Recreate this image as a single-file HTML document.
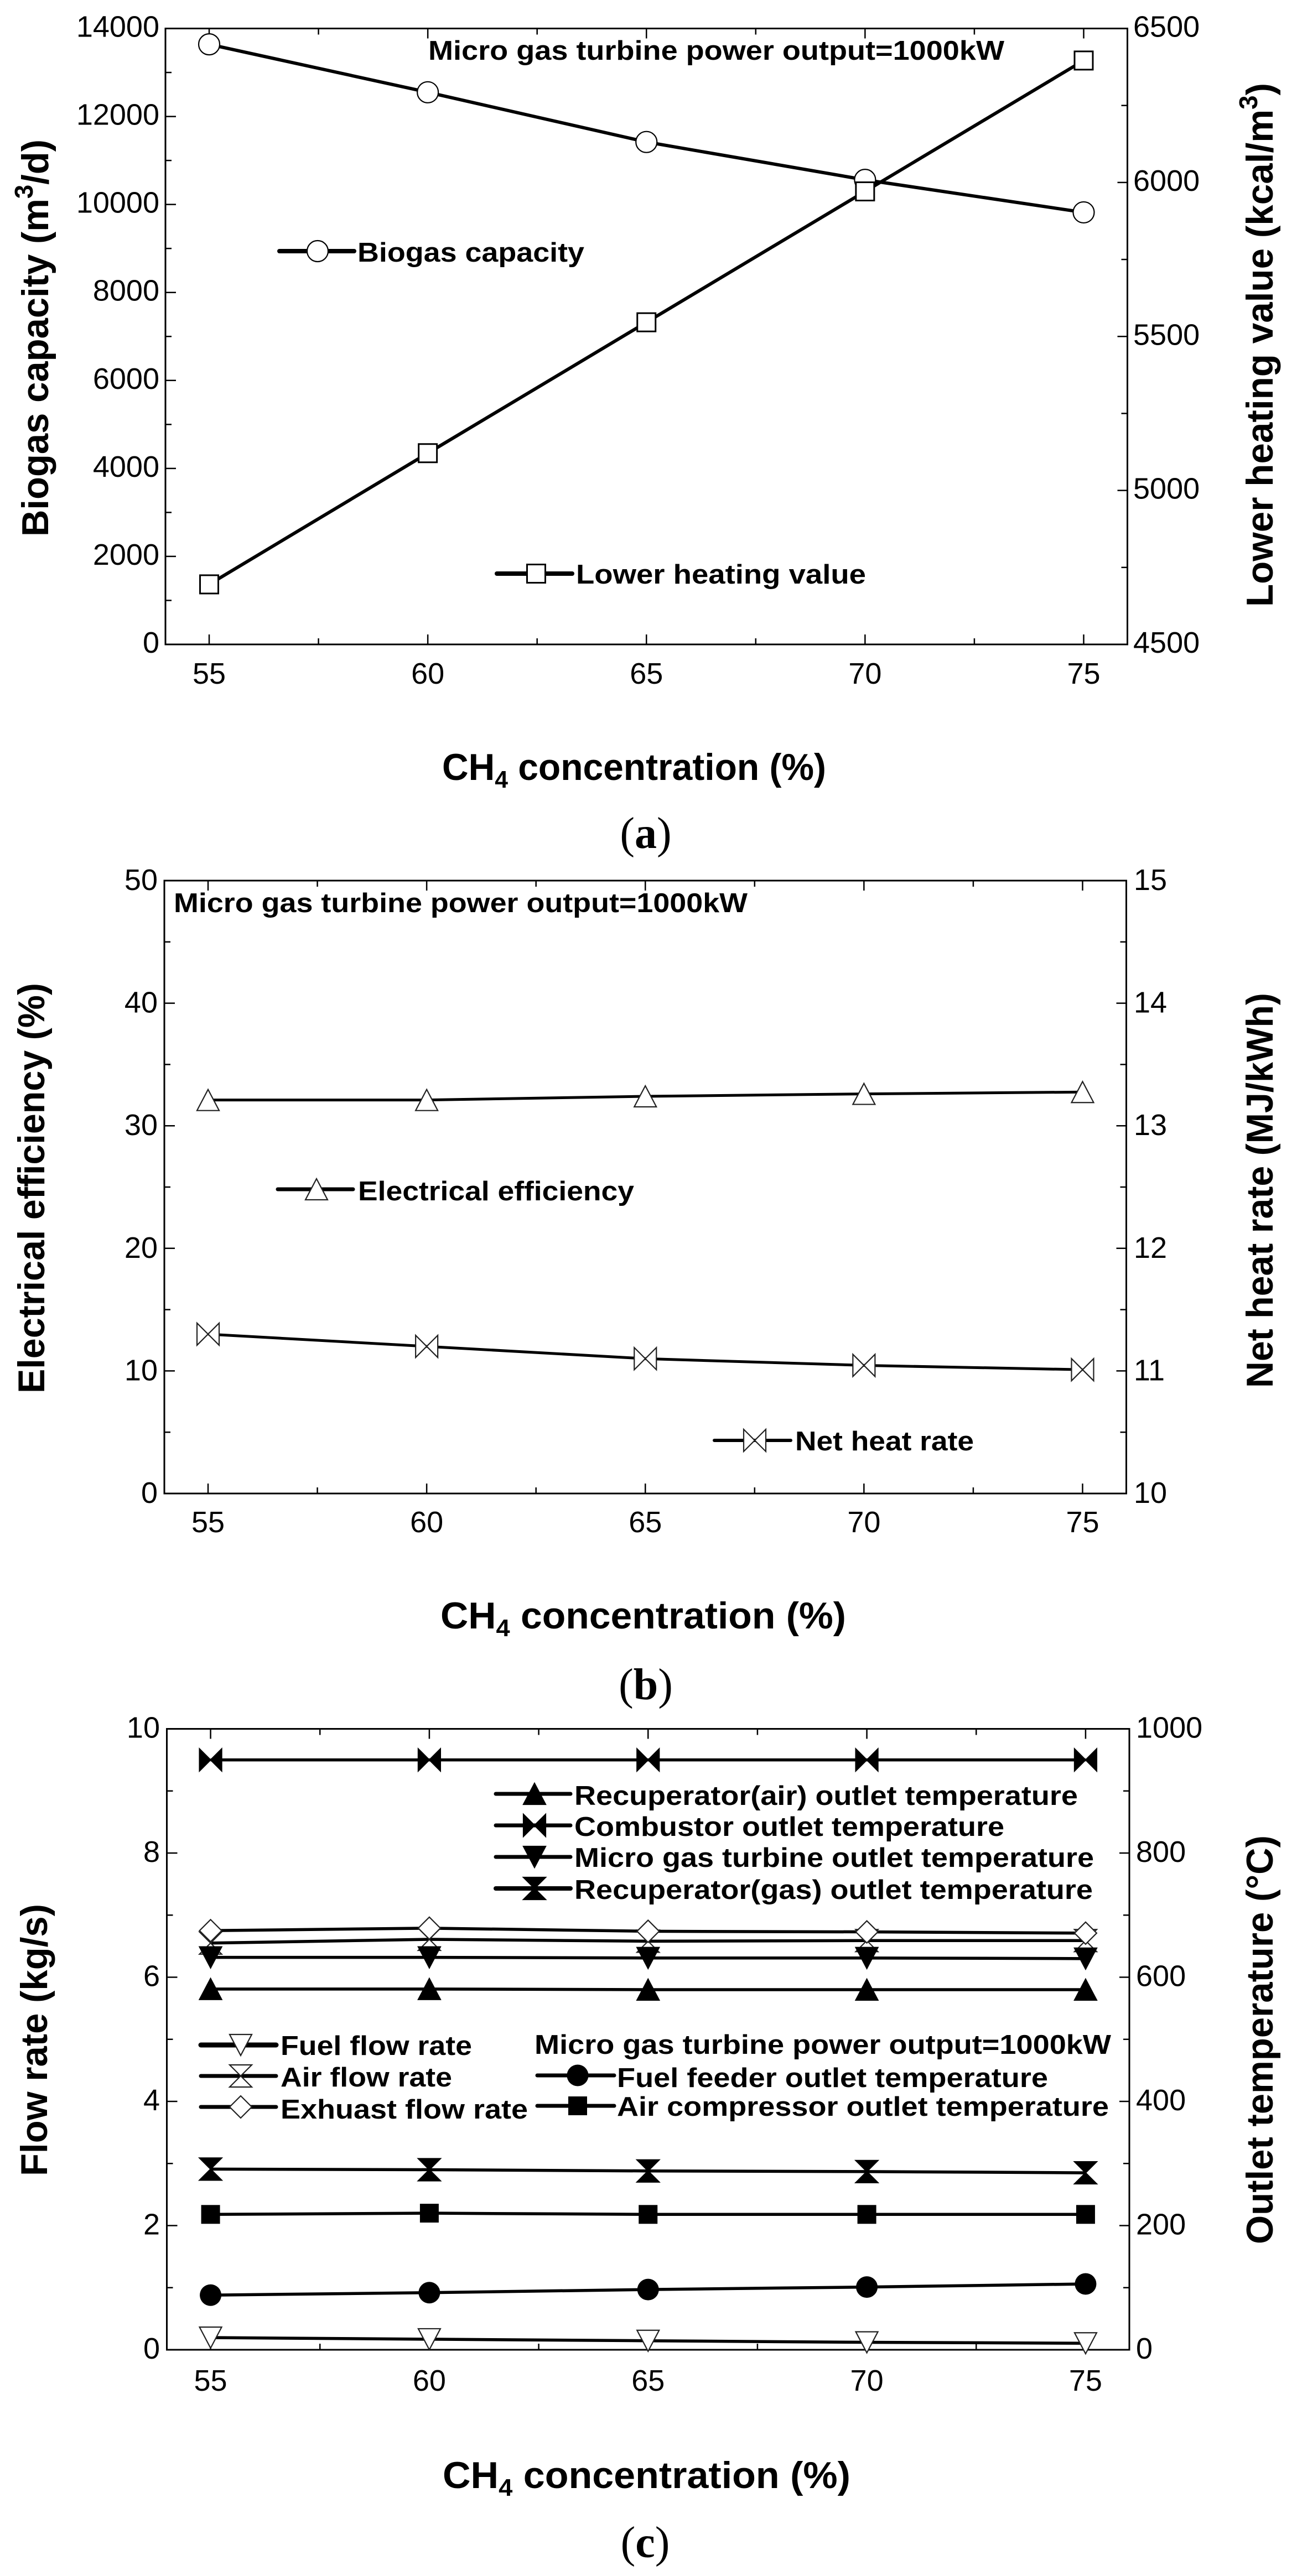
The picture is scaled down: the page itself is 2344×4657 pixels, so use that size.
<!DOCTYPE html>
<html lang="en">
<head>
<meta charset="utf-8">
<title>Micro gas turbine performance vs CH4 concentration</title>
<style>
html,body{margin:0;padding:0;background:#fff;}
svg{display:block;}
text{font-family:"Liberation Sans",Arial,sans-serif;fill:#000;}
.tt{font-weight:bold;font-size:68px;}
.lg{font-weight:bold;font-size:49px;}
.tk{font-size:54px;}
.pl{font-family:"Liberation Serif","Times New Roman",serif;font-size:80px;}
</style>
</head>
<body>
<svg id="figure" xmlns="http://www.w3.org/2000/svg" width="2344" height="4657" viewBox="0 0 2344 4657">
  <rect width="2344" height="4657" fill="#fff"/>

  <g id="panel-a"></g>
  <g id="panel-b"></g>
  <g id="panel-c"></g>

  <!-- Panel a text -->
  <text class="lg" x="774" y="108" textLength="1041" lengthAdjust="spacingAndGlyphs">Micro gas turbine power output=1000kW</text>
  <text class="lg" x="646" y="473" textLength="410" lengthAdjust="spacingAndGlyphs">Biogas capacity</text>
  <text class="lg" x="1041" y="1055" textLength="524" lengthAdjust="spacingAndGlyphs">Lower heating value</text>
  <text class="tt" transform="translate(87,970) rotate(-90)" textLength="718" lengthAdjust="spacingAndGlyphs">Biogas capacity (m<tspan font-size="46" dy="-28">3</tspan><tspan dy="28">/d)</tspan></text>
  <text class="tt" transform="translate(2300,1097) rotate(-90)" textLength="947" lengthAdjust="spacingAndGlyphs">Lower heating value (kcal/m<tspan font-size="46" dy="-28">3</tspan><tspan dy="28">)</tspan></text>
  <text class="tt" x="799" y="1410" textLength="694" lengthAdjust="spacingAndGlyphs">CH<tspan font-size="44" dy="14">4</tspan><tspan dy="-14"> concentration (%)</tspan></text>
  <text class="pl" x="1167" y="1533" text-anchor="middle">(<tspan font-weight="bold">a</tspan>)</text>

  <!-- Panel b text -->
  <text class="lg" x="314" y="1649" textLength="1037" lengthAdjust="spacingAndGlyphs">Micro gas turbine power output=1000kW</text>
  <text class="lg" x="647" y="2170" textLength="499" lengthAdjust="spacingAndGlyphs">Electrical efficiency</text>
  <text class="lg" x="1437" y="2622" textLength="323" lengthAdjust="spacingAndGlyphs">Net heat rate</text>
  <text class="tt" transform="translate(80,2519) rotate(-90)" textLength="742" lengthAdjust="spacingAndGlyphs">Electrical efficiency (%)</text>
  <text class="tt" transform="translate(2300,2509) rotate(-90)" textLength="714" lengthAdjust="spacingAndGlyphs">Net heat rate (MJ/kWh)</text>
  <text class="tt" x="796" y="2944" textLength="733" lengthAdjust="spacingAndGlyphs">CH<tspan font-size="44" dy="14">4</tspan><tspan dy="-14"> concentration (%)</tspan></text>
  <text class="pl" x="1167" y="3072" text-anchor="middle">(<tspan font-weight="bold">b</tspan>)</text>

  <!-- Panel c text -->
  <text class="lg" x="1038" y="3263" textLength="910" lengthAdjust="spacingAndGlyphs">Recuperator(air) outlet temperature</text>
  <text class="lg" x="1038" y="3319" textLength="777" lengthAdjust="spacingAndGlyphs">Combustor outlet temperature</text>
  <text class="lg" x="1038" y="3375" textLength="939" lengthAdjust="spacingAndGlyphs">Micro gas turbine outlet temperature</text>
  <text class="lg" x="1038" y="3433" textLength="937" lengthAdjust="spacingAndGlyphs">Recuperator(gas) outlet temperature</text>
  <text class="lg" x="507" y="3715" textLength="346" lengthAdjust="spacingAndGlyphs">Fuel flow rate</text>
  <text class="lg" x="507" y="3772" textLength="310" lengthAdjust="spacingAndGlyphs">Air flow rate</text>
  <text class="lg" x="507" y="3830" textLength="447" lengthAdjust="spacingAndGlyphs">Exhuast flow rate</text>
  <text class="lg" x="966" y="3713" textLength="1042" lengthAdjust="spacingAndGlyphs">Micro gas turbine power output=1000kW</text>
  <text class="lg" x="1115" y="3773" textLength="779" lengthAdjust="spacingAndGlyphs">Fuel feeder outlet temperature</text>
  <text class="lg" x="1115" y="3825" textLength="889" lengthAdjust="spacingAndGlyphs">Air compressor outlet temperature</text>
  <text class="tt" transform="translate(85,3934) rotate(-90)" textLength="492" lengthAdjust="spacingAndGlyphs">Flow rate (kg/s)</text>
  <text class="tt" transform="translate(2300,4057) rotate(-90)" textLength="739" lengthAdjust="spacingAndGlyphs">Outlet temperature (°C)</text>
  <text class="tt" x="800" y="4498" textLength="737" lengthAdjust="spacingAndGlyphs">CH<tspan font-size="44" dy="14">4</tspan><tspan dy="-14"> concentration (%)</tspan></text>
  <text class="pl" x="1166" y="4623" text-anchor="middle">(<tspan font-weight="bold">c</tspan>)</text>
</svg>

<script>
// Shared category axis
const categories = [55, 60, 65, 70, 75];

// Panel a
const biogasCapacity = [13640, 12550, 11420, 10560, 9820];
const lowerHeatingValue = [4695, 5121, 5546, 5971, 6396];
const aLeftTicks = [0, 2000, 4000, 6000, 8000, 10000, 12000, 14000];
const aRightTicks = [4500, 5000, 5500, 6000, 6500];

// Panel b
const electricalEfficiency = [32.1, 32.1, 32.4, 32.6, 32.75];
const netHeatRate = [11.30, 11.20, 11.10, 11.045, 11.01];
const bLeftTicks = [0, 10, 20, 30, 40, 50];
const bRightTicks = [10, 11, 12, 13, 14, 15];

// Panel c
const fuelFlowRate = [0.196, 0.17, 0.145, 0.12, 0.105];
const airFlowRate = [6.55, 6.61, 6.58, 6.59, 6.59];
const exhaustFlowRate = [6.75, 6.79, 6.74, 6.73, 6.71];
const recuperatorAirTemp = [581, 581, 580, 580, 580];
const combustorTemp = [950, 950, 950, 950, 950];
const microTurbineTemp = [632, 632, 631, 631, 630];
const recuperatorGasTemp = [291, 290, 288, 287, 285];
const fuelFeederTemp = [88, 92, 97, 101, 106];
const airCompressorTemp = [218, 220, 218, 218, 218];
const cLeftTicks = [0, 2, 4, 6, 8, 10];
const cRightTicks = [0, 200, 400, 600, 800, 1000];

const NS = 'http://www.w3.org/2000/svg';

function make(tag, attrs, parent) {
  const el = document.createElementNS(NS, tag);
  for (const k in attrs) el.setAttribute(k, attrs[k]);
  parent.appendChild(el);
  return el;
}

function scale(d0, d1, r0, r1) {
  return function (v) { return r0 + (v - d0) * (r1 - r0) / (d1 - d0); };
}

function midpoints(ticks) {
  const out = [];
  for (let i = 0; i + 1 < ticks.length; i++) out.push((ticks[i] + ticks[i + 1]) / 2);
  return out;
}

const TRI = 'M0,-19 L20,19 L-20,19 Z';
const TRID = 'M0,19 L20,-19 L-20,-19 Z';
const HOUR = 'M-20,-20 L20,-20 L-20,20 L20,20 Z';
const BOW = 'M-20,-20 L20,20 L20,-20 L-20,20 Z';
const DIAM = 'M0,-20 L20,0 L0,20 L-20,0 Z';

function drawMarker(parent, kind, cx, cy, name) {
  const t = 'translate(' + cx + ',' + cy + ')';
  let el;
  if (kind === 'circle-open') {
    el = make('circle', { cx: cx, cy: cy, r: 19, fill: '#fff', stroke: '#000', 'stroke-width': 2.2 }, parent);
  } else if (kind === 'circle-solid') {
    el = make('circle', { cx: cx, cy: cy, r: 19.5, fill: '#000' }, parent);
  } else if (kind === 'square-open') {
    el = make('rect', { x: cx - 16.5, y: cy - 16.5, width: 33, height: 33, fill: '#fff', stroke: '#000', 'stroke-width': 3 }, parent);
  } else if (kind === 'square-solid') {
    el = make('rect', { x: cx - 17, y: cy - 17, width: 34, height: 34, fill: '#000' }, parent);
  } else {
    const paths = {
      'tri-open': [TRI, '#fff'], 'tri-solid': [TRI, '#000'],
      'trid-open': [TRID, '#fff'], 'trid-solid': [TRID, '#000'],
      'hour-open': [HOUR, '#fff'], 'hour-solid': [HOUR, '#000'],
      'bow-open': [BOW, '#fff'], 'bow-solid': [BOW, '#000'],
      'diamond-open': [DIAM, '#fff']
    };
    const p = paths[kind];
    el = make('path', { d: p[0], fill: p[1], stroke: p[1] === '#fff' ? '#222' : '#000', 'stroke-width': 2.2, 'stroke-linejoin': 'miter', transform: t }, parent);
  }
  
  
  return el;
}

function drawAxes(g, p, prefix) {
  const xs = scale(p.xMin, p.xMax, p.left, p.right);
  const yL = scale(p.leftMin, p.leftMax, p.bottom, p.top);
  const yR = scale(p.rightMin, p.rightMax, p.bottom, p.top);

  const frame = make('rect', { x: p.left, y: p.top, width: p.right - p.left, height: p.bottom - p.top, fill: 'none', stroke: '#000', 'stroke-width': 3 }, g);
  
  

  function tick(x1, y1, x2, y2) {
    const el = make('line', { x1: x1, y1: y1, x2: x2, y2: y2, stroke: '#000', 'stroke-width': 2.5 }, g);
    
    
  }
  function label(txt, x, y, anchor, axis) {
    const el = make('text', { x: x, y: y, 'text-anchor': anchor, class: 'tk' }, g);
    el.textContent = txt;
    
    
  }

  categories.forEach(function (c) {
    tick(xs(c), p.bottom, xs(c), p.bottom - 18);
    tick(xs(c), p.top, xs(c), p.top + 18);
    label(String(c), xs(c), p.xLabelY, 'middle', 'x-axis');
  });
  midpoints(categories).forEach(function (c) {
    tick(xs(c), p.bottom, xs(c), p.bottom - 11);
    tick(xs(c), p.top, xs(c), p.top + 11);
  });
  p.leftTicks.forEach(function (v) {
    tick(p.left, yL(v), p.left + 19, yL(v));
    label(String(v), p.leftLabelX, yL(v) + p.labelDy, 'end', 'left-axis');
  });
  midpoints(p.leftTicks).forEach(function (v) { tick(p.left, yL(v), p.left + 11, yL(v)); });
  p.rightTicks.forEach(function (v) {
    tick(p.right, yR(v), p.right - 18, yR(v));
    label(String(v), p.rightLabelX, yR(v) + p.labelDy, 'start', 'right-axis');
  });
  midpoints(p.rightTicks).forEach(function (v) { tick(p.right, yR(v), p.right - 11, yR(v)); });

  return { xs: xs, yL: yL, yR: yR };
}

function drawSeries(g, xs, ys, values, kind, name, width) {
  const pts = values.map(function (v, i) { return xs(categories[i]) + ',' + ys(v); }).join(' ');
  const line = make('polyline', { points: pts, fill: 'none', stroke: '#000', 'stroke-width': width }, g);
  
  
  values.forEach(function (v, i) {
    drawMarker(g, kind, xs(categories[i]), ys(v), name + '-point');
  });
}

function drawLegendKey(g, x1, x2, y, mx, kind, name, width) {
  const line = make('line', { x1: x1, y1: y, x2: x2, y2: y, stroke: '#000', 'stroke-width': width, 'stroke-linecap': 'round' }, g);
  
  
  drawMarker(g, kind, mx, y, name + '-legend-marker');
}

// ---------- Panel a ----------
(function () {
  const g = document.getElementById('panel-a');
  const a = drawAxes(g, {
    left: 299, right: 2037.5, top: 51.5, bottom: 1165, xMin: 54, xMax: 76,
    leftMin: 0, leftMax: 14000, rightMin: 4500, rightMax: 6500,
    leftTicks: aLeftTicks, rightTicks: aRightTicks,
    xLabelY: 1236, leftLabelX: 288, rightLabelX: 2048, labelDy: 15
  }, 'panel-a');
  drawSeries(g, a.xs, a.yL, biogasCapacity, 'circle-open', 'biogas-capacity', 6);
  drawSeries(g, a.xs, a.yR, lowerHeatingValue, 'square-open', 'lower-heating-value', 6);
  drawLegendKey(g, 505, 640, 454, 574, 'circle-open', 'biogas-capacity', 8);
  drawLegendKey(g, 898, 1034, 1037, 969, 'square-open', 'lower-heating-value', 8);
})();

// ---------- Panel b ----------
(function () {
  const g = document.getElementById('panel-b');
  const a = drawAxes(g, {
    left: 297, right: 2035.5, top: 1592, bottom: 2700, xMin: 54, xMax: 76,
    leftMin: 0, leftMax: 50, rightMin: 10, rightMax: 15,
    leftTicks: bLeftTicks, rightTicks: bRightTicks,
    xLabelY: 2770, leftLabelX: 285, rightLabelX: 2049, labelDy: 17
  }, 'panel-b');
  drawSeries(g, a.xs, a.yL, electricalEfficiency, 'tri-open', 'electrical-efficiency', 5);
  drawSeries(g, a.xs, a.yR, netHeatRate, 'bow-open', 'net-heat-rate', 5);
  drawLegendKey(g, 502, 638, 2150, 572, 'tri-open', 'electrical-efficiency', 7);
  drawLegendKey(g, 1291, 1429, 2604, 1364, 'bow-open', 'net-heat-rate', 6);
})();

// ---------- Panel c ----------
(function () {
  const g = document.getElementById('panel-c');
  const a = drawAxes(g, {
    left: 301.5, right: 2041, top: 3125.5, bottom: 4248, xMin: 54, xMax: 76,
    leftMin: 0, leftMax: 10, rightMin: 0, rightMax: 1000,
    leftTicks: cLeftTicks, rightTicks: cRightTicks,
    xLabelY: 4322, leftLabelX: 289, rightLabelX: 2053, labelDy: 16
  }, 'panel-c');
  drawSeries(g, a.xs, a.yR, combustorTemp, 'bow-solid', 'combustor-temperature', 5.5);
  drawSeries(g, a.xs, a.yL, airFlowRate, 'hour-open', 'air-flow-rate', 5.5);
  drawSeries(g, a.xs, a.yL, exhaustFlowRate, 'diamond-open', 'exhaust-flow-rate', 5.5);
  drawSeries(g, a.xs, a.yR, microTurbineTemp, 'trid-solid', 'micro-turbine-temperature', 5.5);
  drawSeries(g, a.xs, a.yR, recuperatorAirTemp, 'tri-solid', 'recuperator-air-temperature', 5.5);
  drawSeries(g, a.xs, a.yR, recuperatorGasTemp, 'hour-solid', 'recuperator-gas-temperature', 5.5);
  drawSeries(g, a.xs, a.yR, airCompressorTemp, 'square-solid', 'air-compressor-temperature', 5.5);
  drawSeries(g, a.xs, a.yR, fuelFeederTemp, 'circle-solid', 'fuel-feeder-temperature', 5.5);
  drawSeries(g, a.xs, a.yL, fuelFlowRate, 'trid-open', 'fuel-flow-rate', 5.5);

  drawLegendKey(g, 896, 1031, 3243, 966, 'tri-solid', 'recuperator-air-temperature', 7);
  drawLegendKey(g, 896, 1031, 3300, 966, 'bow-solid', 'combustor-temperature', 7);
  drawLegendKey(g, 896, 1031, 3357, 966, 'trid-solid', 'micro-turbine-temperature', 7);
  drawLegendKey(g, 896, 1031, 3414, 966, 'hour-solid', 'recuperator-gas-temperature', 8);
  drawLegendKey(g, 363, 499, 3697, 435, 'trid-open', 'fuel-flow-rate', 9);
  drawLegendKey(g, 363, 499, 3753, 435, 'hour-open', 'air-flow-rate', 7);
  drawLegendKey(g, 363, 499, 3809, 435, 'diamond-open', 'exhaust-flow-rate', 7);
  drawLegendKey(g, 971, 1110, 3752, 1044, 'circle-solid', 'fuel-feeder-temperature', 7);
  drawLegendKey(g, 971, 1110, 3807, 1044, 'square-solid', 'air-compressor-temperature', 7);
})();
</script>
</body>
</html>
